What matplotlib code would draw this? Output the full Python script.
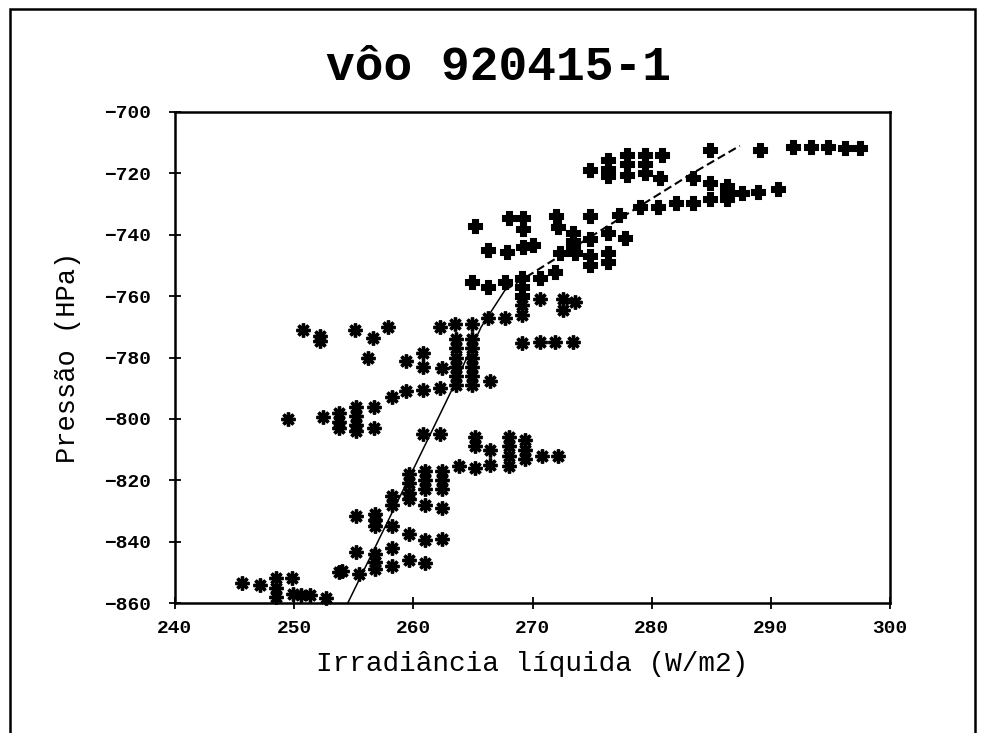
import matplotlib
matplotlib.use("Agg")
import matplotlib.pyplot as plt
from matplotlib.patches import Rectangle

# ---------------- data ----------------
title = "vôo 920415-1"
xlabel = "Irradiância líquida (W/m2)"
ylabel = "Pressão (HPa)"
xticks = [240, 250, 260, 270, 280, 290, 300]
yticks = [-700, -720, -740, -760, -780, -800, -820, -840, -860]

# asterisk points (lower levels)
ast_x = [245.6, 247.1, 248.5, 248.5, 248.5, 249.8, 249.9, 250.6, 251.3, 252.7, 253.8,
         249.5, 252.4, 253.8, 253.8, 253.8, 255.2, 255.2, 255.2, 255.2, 256.7, 256.7,
         258.2, 259.4, 260.8, 262.2,
         256.2, 259.4, 260.8, 260.8, 262.4,
         263.6, 263.6, 263.6, 263.6, 263.6, 263.6,
         264.9, 264.9, 264.9, 264.9, 264.9, 264.9, 266.4, 269.1,
         250.7, 252.2, 252.2, 255.1, 256.6, 257.9, 262.2, 263.5, 264.9, 266.3, 267.7,
         269.1, 269.1, 270.6, 272.6, 272.6, 273.6, 270.6, 271.9, 273.4,
         260.8, 262.2, 265.2, 265.2, 266.4, 268.0, 268.0, 268.0, 268.0,
         269.4, 269.4, 269.4, 270.8, 272.1, 263.8, 265.2, 266.4,
         259.6, 259.6, 259.6, 259.6, 261.0, 261.0, 261.0, 262.4, 262.4, 262.4,
         258.2, 258.2, 261.0, 262.4, 255.2, 256.8, 256.8, 256.8, 258.2, 259.6,
         261.0, 262.4, 258.2, 255.2, 256.8, 256.8, 256.8, 258.2, 259.6, 261.0,
         254.0, 255.4]
ast_y = [-853.5, -854, -852, -855, -858, -852, -857, -857.5, -857.5, -858.5, -850,
         -800, -799.5, -798, -801, -803, -796, -799, -802, -804, -796, -803,
         -793, -791, -790.5, -790,
         -780, -781, -778.5, -783, -783.5,
         -774, -777, -780, -783, -786, -789,
         -774, -777, -780, -783, -786, -789, -787.5, -775.3,
         -771, -773, -774.5, -771, -773.5, -770, -770, -769, -769, -767, -767,
         -763, -766, -761, -761, -764.5, -762, -775, -775, -775,
         -805, -805, -806, -809, -810, -806, -809, -812, -815.5,
         -807, -810, -813, -812, -812, -815.5, -816, -815,
         -818, -821, -824, -826, -817, -820, -823, -817, -820, -823,
         -825, -828, -828, -829, -831.5, -831, -833, -835, -835, -837.5,
         -839.5, -839, -842, -843.5, -844, -846.5, -849, -848, -846, -847,
         -849.5, -850.5]

# filled plus points (upper levels)
plus_x = [265.2, 268.0, 269.2, 269.2, 266.3, 267.9, 269.2, 264.9, 266.3, 267.7,
          269.1, 269.1, 269.1, 270.0, 270.6, 272.0, 272.1, 272.3, 271.9,
          273.4, 273.4, 273.4, 274.8, 273.6, 274.8, 274.8, 274.8, 276.3, 276.3,
          276.3, 277.8, 277.3, 279.0, 280.5, 282.0, 283.5, 284.9, 286.3, 286.3,
          287.6, 288.9, 290.6, 283.5, 284.9, 286.3, 274.8, 276.3, 276.3, 276.3,
          277.9, 277.9, 277.9, 279.4, 279.4, 279.4, 280.9, 280.7,
          284.9, 289.1, 291.9, 293.4, 294.8, 296.2, 297.5]
plus_y = [-737, -734.5, -734.5, -738, -745, -745.5, -744, -755.5, -757, -755.5,
          -754, -757, -760, -743.5, -754, -734, -737.5, -746, -752,
          -739.5, -742, -744, -734, -746, -741.5, -747, -750, -746, -749,
          -739.5, -741, -733.5, -731, -731, -729.5, -729.5, -728.5, -726.5, -728.5,
          -726.5, -726, -725, -721.5, -723, -724, -719, -715.5, -718.5, -721,
          -714, -717, -720.5, -714, -717, -720, -714, -721.5,
          -712.5, -712.5, -711.5, -711.5, -711.5, -711.7, -711.7]

# trend curve
trend_solid_x = [254.5, 259.8, 263.3, 265.7, 267.7]
trend_solid_y = [-860, -818, -790, -770, -758]
trend_dash_x = [267.7, 270.0, 276.8, 283.2, 287.4]
trend_dash_y = [-758, -752.5, -736, -720.5, -711]

# ---------------- plot ----------------
mono = ["Liberation Mono", "DejaVu Sans Mono"]
plt.rcParams["font.family"] = mono

fig = plt.figure(figsize=(9.81, 7.33), dpi=100)
ax = fig.add_axes([175 / 981, 1 - 603 / 733, 715 / 981, 491 / 733])

ax.plot(ast_x, ast_y, linestyle="none", marker=(8, 2, 0), markersize=10,
        markeredgewidth=2.4, color="black", clip_on=False)
ax.plot(plus_x, plus_y, linestyle="none", marker="P", markersize=8.5,
        color="black", markeredgewidth=2.2, clip_on=False)
ax.plot(trend_solid_x, trend_solid_y, color="black", linewidth=1.1)
ax.plot(trend_dash_x, trend_dash_y, color="black", linewidth=1.5,
        linestyle=(0, (4, 2)))

ax.set_xlim(240, 300)
ax.set_ylim(-860, -700)
ax.set_xticks(xticks)
ax.set_yticks(yticks)
ax.tick_params(axis="both", direction="inout", length=8, width=1.3,
               labelsize=14, top=False, right=False)
ax.tick_params(axis="x", pad=8)
ax.tick_params(axis="y", pad=13)
for lab in ax.get_xticklabels() + ax.get_yticklabels():
    lab.set_fontweight("bold")
for s in ax.spines.values():
    s.set_linewidth(1.8)

ax.set_xlabel(xlabel, fontsize=20, labelpad=10)
ax.set_ylabel(ylabel, fontsize=19.5, labelpad=17)
fig.text(498 / 981, 1 - 68 / 733, title, fontsize=34.5,
         ha="center", va="center", fontweight="bold")

# outer frame of the page
fig.patches.append(Rectangle((10 / 981, -0.05), 965 / 981, 1.05 - 9 / 733,
                             transform=fig.transFigure, fill=False,
                             edgecolor="black", linewidth=1.8))

fig.savefig("out.png", dpi=100)
